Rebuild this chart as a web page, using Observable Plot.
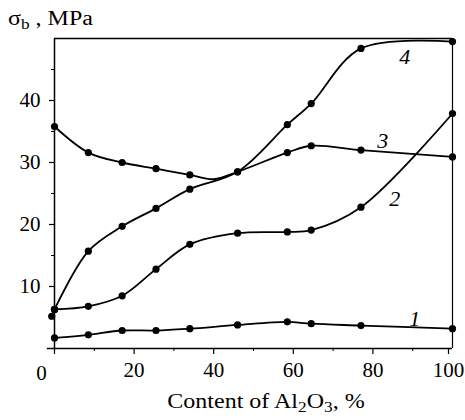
<!DOCTYPE html>
<html>
<head>
<meta charset="utf-8">
<script src="https://cdn.jsdelivr.net/npm/d3@7"></script>
<script src="https://cdn.jsdelivr.net/npm/@observablehq/plot@0.6"></script>
<style>
  html, body { margin: 0; padding: 0; background: #fff; overflow: hidden; }
  #wrap { position: relative; width: 465px; height: 420px; font-family: "Liberation Serif", "Times New Roman", serif; color: #000; background: #fff; }
  #title { position: absolute; left: 8px; top: 8px; font-size: 20px; line-height: 1; white-space: nowrap; z-index: 2; transform: scaleX(1.2); transform-origin: 0 0; }
  #xlabel { position: absolute; left: 266px; top: 391px; transform: translateX(-50%) scaleX(1.2); font-size: 20px; line-height: 1; white-space: nowrap; z-index: 2; }
  sub { font-size: 0.72em; vertical-align: -0.25em; line-height: 0; }
  #wrap svg { position: absolute; left: 0; top: 0; z-index: 1; background: transparent !important; }
</style>
</head>
<body>
<div id="wrap">
  <div id="title">σ<sub>b</sub> , MPa</div>
  <div id="xlabel">Content of Al<sub>2</sub>O<sub>3</sub>, %</div>
</div>
<script>
// Al2O3 content (%) at which each curve was measured
const content = [0, 8.5, 17, 25.5, 34, 46, 58.5, 64.5, 77, 100];
// Strength σb (MPa) per curve
const curve1 = [1.7, 2.2, 2.9, 2.9, 3.2, 3.8, 4.3, 4.0, 3.7, 3.2];
const curve2 = [6.3, 6.8, 8.5, 12.8, 16.8, 18.6, 18.8, 19.1, 22.8, 37.9];
const curve3 = [35.8, 31.6, 30.0, 29.0, 28.0, 28.5, 31.6, 32.7, 32.0, 30.9];
const curve4 = [6.3, 15.7, 19.7, 22.6, 25.7, 28.5, 36.1, 39.5, 48.4, 49.5];
// curve 3 dips between measured points where it meets curve 4
const curve3Dip = {x: 40, y: 27.3};
// extra measured point near the origin
const extraPoint = {x: -0.7, y: 5.2};
// curve labels
const curveNames = ["1", "2", "3", "4"];
const labelX = [90.5, 85.5, 82.5, 88];
const labelY = [4.8, 24.2, 33.5, 47];
// ticks
const xLabeled = [20, 40, 60, 80];
const xEnd = [100];
const xOrigin = [0];
const xMinor = [10, 30, 50, 70, 90];
const yMajor = [10, 20, 30, 40];
const yMinor = [5, 15, 25, 35, 45];

const series = [curve1, curve2, curve3, curve4];
const pts = [];
series.forEach((vals, i) => vals.forEach((v, j) => pts.push({curve: curveNames[i], x: content[j], y: v, dot: true})));
pts.push({curve: "3", x: curve3Dip.x, y: curve3Dip.y, dot: false});
const linePts = d3.sort(pts, d => d.curve, d => d.x);
const dotPts = pts.filter(d => d.dot).concat([{curve: "2", x: extraPoint.x, y: extraPoint.y}]);
const labels = curveNames.map((n, i) => ({n, x: labelX[i], y: labelY[i]}));

const font = '"Liberation Serif", "Times New Roman", serif';

const chart = Plot.plot({
  width: 465,
  height: 420,
  marginLeft: 54,
  marginRight: 13,
  marginTop: 38,
  marginBottom: 72,
  x: {domain: [0, 100]},
  y: {domain: [0, 50]},
  style: {fontFamily: font, fontSize: "21px", color: "#000", background: "transparent", overflow: "visible"},
  marks: [
    // frame
    Plot.ruleY([0], {x1: -1.8, x2: 100, stroke: "#000", strokeWidth: 1.5}),
    Plot.ruleY([50], {stroke: "#000", strokeWidth: 1.5}),
    Plot.ruleX([0], {stroke: "#000", strokeWidth: 1.5}),
    Plot.ruleX([100], {stroke: "#000", strokeWidth: 1.2}),
    // axes
    Plot.axisX({ticks: xLabeled, tickSize: 6, tickPadding: 8, label: null, fontSize: 21, strokeWidth: 1.2}),
    Plot.axisX({ticks: xEnd, tickSize: 6, tickPadding: 8, label: null, fontSize: 21, strokeWidth: 1.2, dx: -4}),
    Plot.axisX({ticks: xOrigin, tickSize: 6, text: null, label: null, strokeWidth: 1.2}),
    Plot.axisX({ticks: xMinor, tickSize: 3, text: null, label: null}),
    Plot.text(xOrigin, {x: d => d, y: 0, text: d => String(d), dx: -13, dy: 25, fontSize: 21}),
    Plot.axisY({ticks: yMajor, tickSize: 5, tickPadding: 9, label: null, fontSize: 21, strokeWidth: 1.2}),
    Plot.axisY({ticks: yMinor, tickSize: 3, text: null, label: null}),
    // curves
    Plot.line(linePts, {x: "x", y: "y", z: "curve", curve: "catmull-rom", stroke: "#000", strokeWidth: 1.8}),
    Plot.dot(dotPts, {x: "x", y: "y", r: 3.6, fill: "#000", stroke: null}),
    Plot.text(labels, {x: "x", y: "y", text: "n", fontSize: 22, fontStyle: "italic"})
  ]
});
document.getElementById("wrap").appendChild(chart);
</script>
</body>
</html>
